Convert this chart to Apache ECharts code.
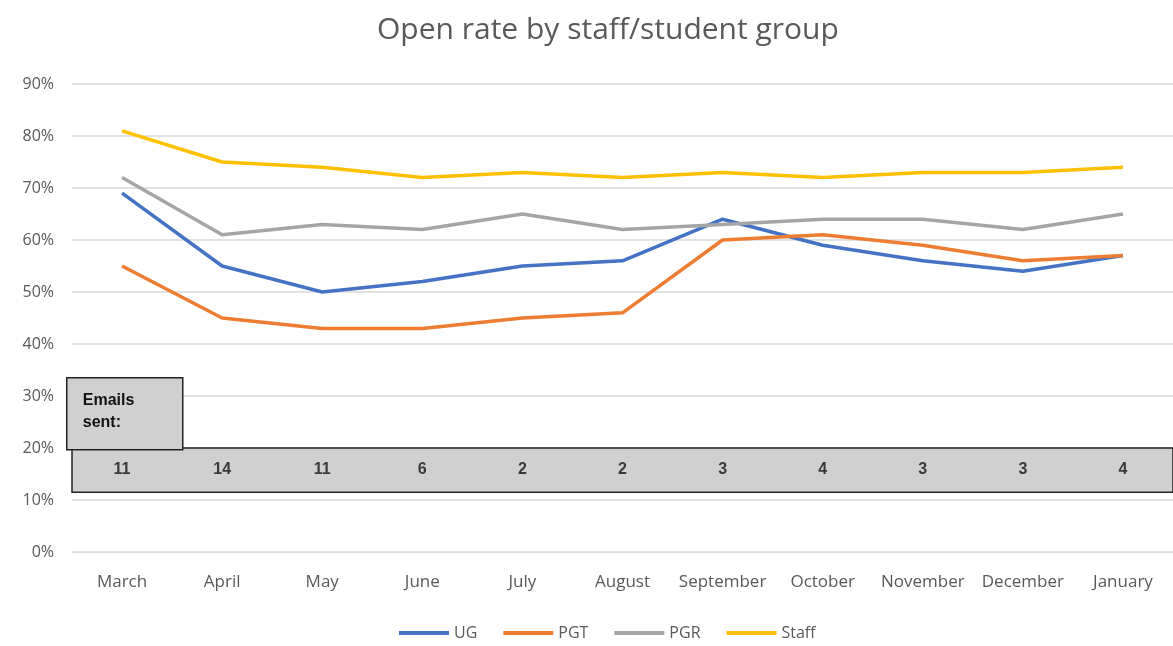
<!DOCTYPE html>
<html>
<head>
<meta charset="utf-8">
<script src="https://cdn.jsdelivr.net/npm/echarts@6/dist/echarts.min.js"></script>
<style>
	html, body { margin: 0; padding: 0; background: #fff; }
	#chart { width: 1173px; height: 646px; }
</style>
</head>
<body>
<div id="chart"></div>
<script>
// 月份
const months = ['March', 'April', 'May', 'June', 'July', 'August', 'September', 'October', 'November', 'December', 'January']
// 打开率 (%)
const ugVals = [69, 55, 50, 52, 55, 56, 64, 59, 56, 54, 57]
const pgtVals = [55, 45, 43, 43, 45, 46, 60, 61, 59, 56, 57]
const pgrVals = [72, 61, 63, 62, 65, 62, 63, 64, 64, 62, 65]
const staffVals = [81, 75, 74, 72, 73, 72, 73, 72, 73, 73, 74]
// 发送邮件数
const emailsSent = [11, 14, 11, 6, 2, 2, 3, 4, 3, 3, 4]

const TEXT_COLOR = '#595959'
const FONT = '"Open Sans", "Noto Sans", sans-serif'

const myChart = echarts.init(document.getElementById('chart'))

const lineSeries = (name, data, color) => ({
	name: name,
	type: 'line',
	data: data,
	showSymbol: false,
	symbol: 'none',
	lineStyle: { color: color, width: 3.5 },
	itemStyle: { color: color },
	z: 3,
})

const option = {
	animation: false,
	title: {
		text: 'Open rate by staff/student group',
		left: 372,
		top: 10,
		textStyle: { color: TEXT_COLOR, fontSize: 30, fontWeight: 'normal', fontFamily: FONT },
	},
	legend: {
		bottom: 0,
		left: 394,
		icon: 'rect',
		itemWidth: 50,
		itemHeight: 4,
		itemGap: 26,
		data: ['UG', 'PGT', 'PGR', 'Staff'],
		textStyle: { color: TEXT_COLOR, fontSize: 16, fontFamily: FONT },
	},
	grid: {
		left: 72,
		right: -4,
		top: 84,
		bottom: 94,
	},
	xAxis: {
		type: 'category',
		boundaryGap: true,
		data: months,
		axisLine: { show: true, lineStyle: { color: '#d9d9d9' } },
		axisTick: { show: false },
		axisLabel: {
			interval: 0,
			hideOverlap: false,
			color: TEXT_COLOR,
			fontSize: 17,
			fontFamily: FONT,
			margin: 22,
		},
	},
	yAxis: {
		type: 'value',
		min: 0,
		max: 90,
		interval: 10,
		axisLine: { show: false },
		axisTick: { show: false },
		splitLine: { lineStyle: { color: '#d9d9d9', width: 1.5 } },
		axisLabel: { color: TEXT_COLOR, fontSize: 16, fontFamily: FONT, margin: 18, formatter: '{value}%' },
	},
	series: [
		lineSeries('UG', ugVals, '#4472C4'),
		lineSeries('PGT', pgtVals, '#ED7D31'),
		lineSeries('PGR', pgrVals, '#A5A5A5'),
		lineSeries('Staff', staffVals, '#FFC000'),
		{
			name: 'Emails sent',
			type: 'scatter',
			symbolSize: 0,
			data: emailsSent.map((v, i) => [i, 15.8]),
			label: {
				show: true,
				position: 'inside',
				formatter: (p) => String(emailsSent[p.dataIndex]),
				color: '#111',
				fontSize: 16,
				fontWeight: 'bold',
				fontFamily: '"Liberation Sans", Arial, sans-serif',
			},
			markArea: {
				silent: true,
				itemStyle: { color: '#d0d0d0', borderColor: '#222', borderWidth: 1.5 },
				data: [[{ yAxis: 11.5 }, { yAxis: 20 }]],
			},
			z: 5,
		},
	],
	graphic: [
		{
			type: 'group',
			left: 66,
			top: 377,
			z: 100,
			children: [
				{
					type: 'rect',
					z: 100,
					shape: { x: 0, y: 0, width: 116, height: 72 },
					style: { fill: '#d0d0d0', stroke: '#222', lineWidth: 1.5 },
				},
				{
					type: 'text',
					z: 101,
					x: 16,
					y: 12,
					style: {
						text: 'Emails\nsent:',
						fill: '#111',
						font: 'bold 16px "Liberation Sans", Arial, sans-serif',
						lineHeight: 22,
					},
				},
			],
		},
	],
}

myChart.setOption(option)
</script>
</body>
</html>
